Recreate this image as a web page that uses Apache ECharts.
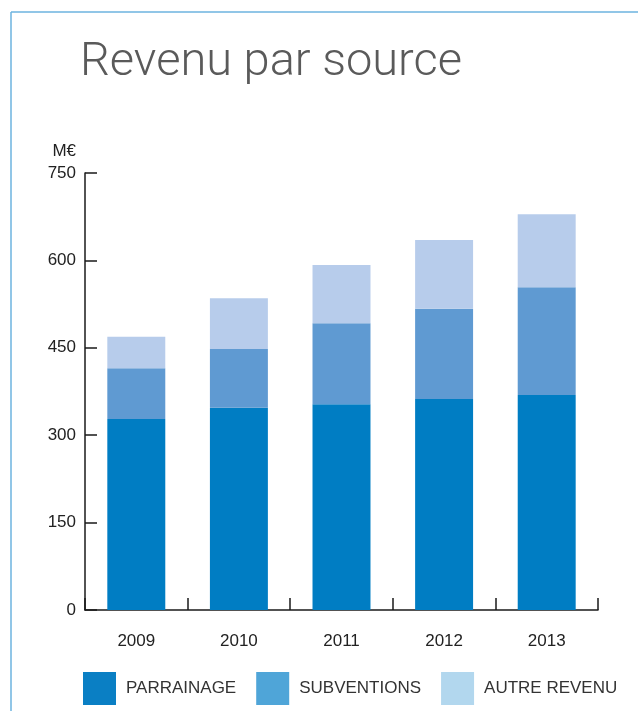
<!DOCTYPE html>
<html>
<head>
<meta charset="utf-8">
<script src="https://cdn.jsdelivr.net/npm/echarts@6/dist/echarts.min.js"></script>
<style>
html,body{margin:0;padding:0;background:#fff;}
#chart{width:638px;height:711px;}
</style>
</head>
<body>
<div id="chart"></div>
<script>
var years = ['2009', '2010', '2011', '2012', '2013'];
var parrainage = [328, 347, 353, 362, 369];
var subventions = [87, 101, 139, 155, 185];
var autreRevenu = [54, 87, 100, 118, 125];
var seriesNames = ['PARRAINAGE', 'SUBVENTIONS', 'AUTRE REVENU'];
var barColors = ['#007dc3', '#5f9ad2', '#b7cceb'];
var legendColors = ['#0a7fc4', '#4fa5d8', '#b2d7ee'];

var chart = echarts.init(document.getElementById('chart'), null, {renderer: 'canvas'});
var font = '"Liberation Sans", Arial, sans-serif';

var seriesData = [parrainage, subventions, autreRevenu];
var series = seriesNames.map(function (name, i) {
  return {
    name: name,
    type: 'bar',
    stack: 'total',
    barWidth: '56.5%',
    itemStyle: {color: barColors[i]},
    data: seriesData[i]
  };
});

chart.setOption({
  animation: false,
  backgroundColor: '#ffffff',
  title: {
    text: 'Revenu par source',
    left: 75,
    top: 35,
    textStyle: {
      fontFamily: 'Roboto, "Liberation Sans", sans-serif',
      fontWeight: 300,
      fontSize: 47,
      color: '#5a5a5a'
    }
  },
  graphic: [
    {type: 'line', shape: {x1: 11, y1: 12, x2: 11, y2: 711}, style: {stroke: '#6cb3df', lineWidth: 1.5}},
    {type: 'line', shape: {x1: 11, y1: 12, x2: 638, y2: 12}, style: {stroke: '#6cb3df', lineWidth: 1.5}}
  ],
  legend: {
    left: 83,
    top: 672,
    padding: 0,
    itemWidth: 33,
    itemHeight: 33,
    itemGap: 20,
    icon: 'rect',
    selectedMode: false,
    textStyle: {fontFamily: font, fontSize: 17, color: '#333', padding: [0, 0, 0, 5]},
    data: seriesNames.map(function (n, i) {
      return {name: n, itemStyle: {color: legendColors[i]}};
    })
  },
  grid: {left: 85, right: 40, top: 173, bottom: 101, containLabel: false},
  xAxis: {
    type: 'category',
    data: years,
    boundaryGap: true,
    axisLine: {show: true, lineStyle: {color: '#1a1a1a', width: 1.5}},
    axisTick: {show: true, inside: true, length: 12, lineStyle: {color: '#1a1a1a', width: 1.5}},
    axisLabel: {fontFamily: font, fontSize: 17, color: '#222', margin: 23}
  },
  yAxis: {
    type: 'value',
    min: 0,
    max: 750,
    interval: 150,
    name: 'M€',
    nameLocation: 'end',
    nameGap: 22,
    nameTextStyle: {fontFamily: font, fontSize: 17, color: '#222', align: 'right', verticalAlign: 'middle', padding: [0, 9, 0, 0]},
    axisLine: {show: true, lineStyle: {color: '#1a1a1a', width: 1.5}},
    axisTick: {show: true, inside: true, length: 12, lineStyle: {color: '#1a1a1a', width: 1.5}},
    splitLine: {show: false},
    axisLabel: {fontFamily: font, fontSize: 17, color: '#222', margin: 9}
  },
  series: series
});
</script>
</body>
</html>
